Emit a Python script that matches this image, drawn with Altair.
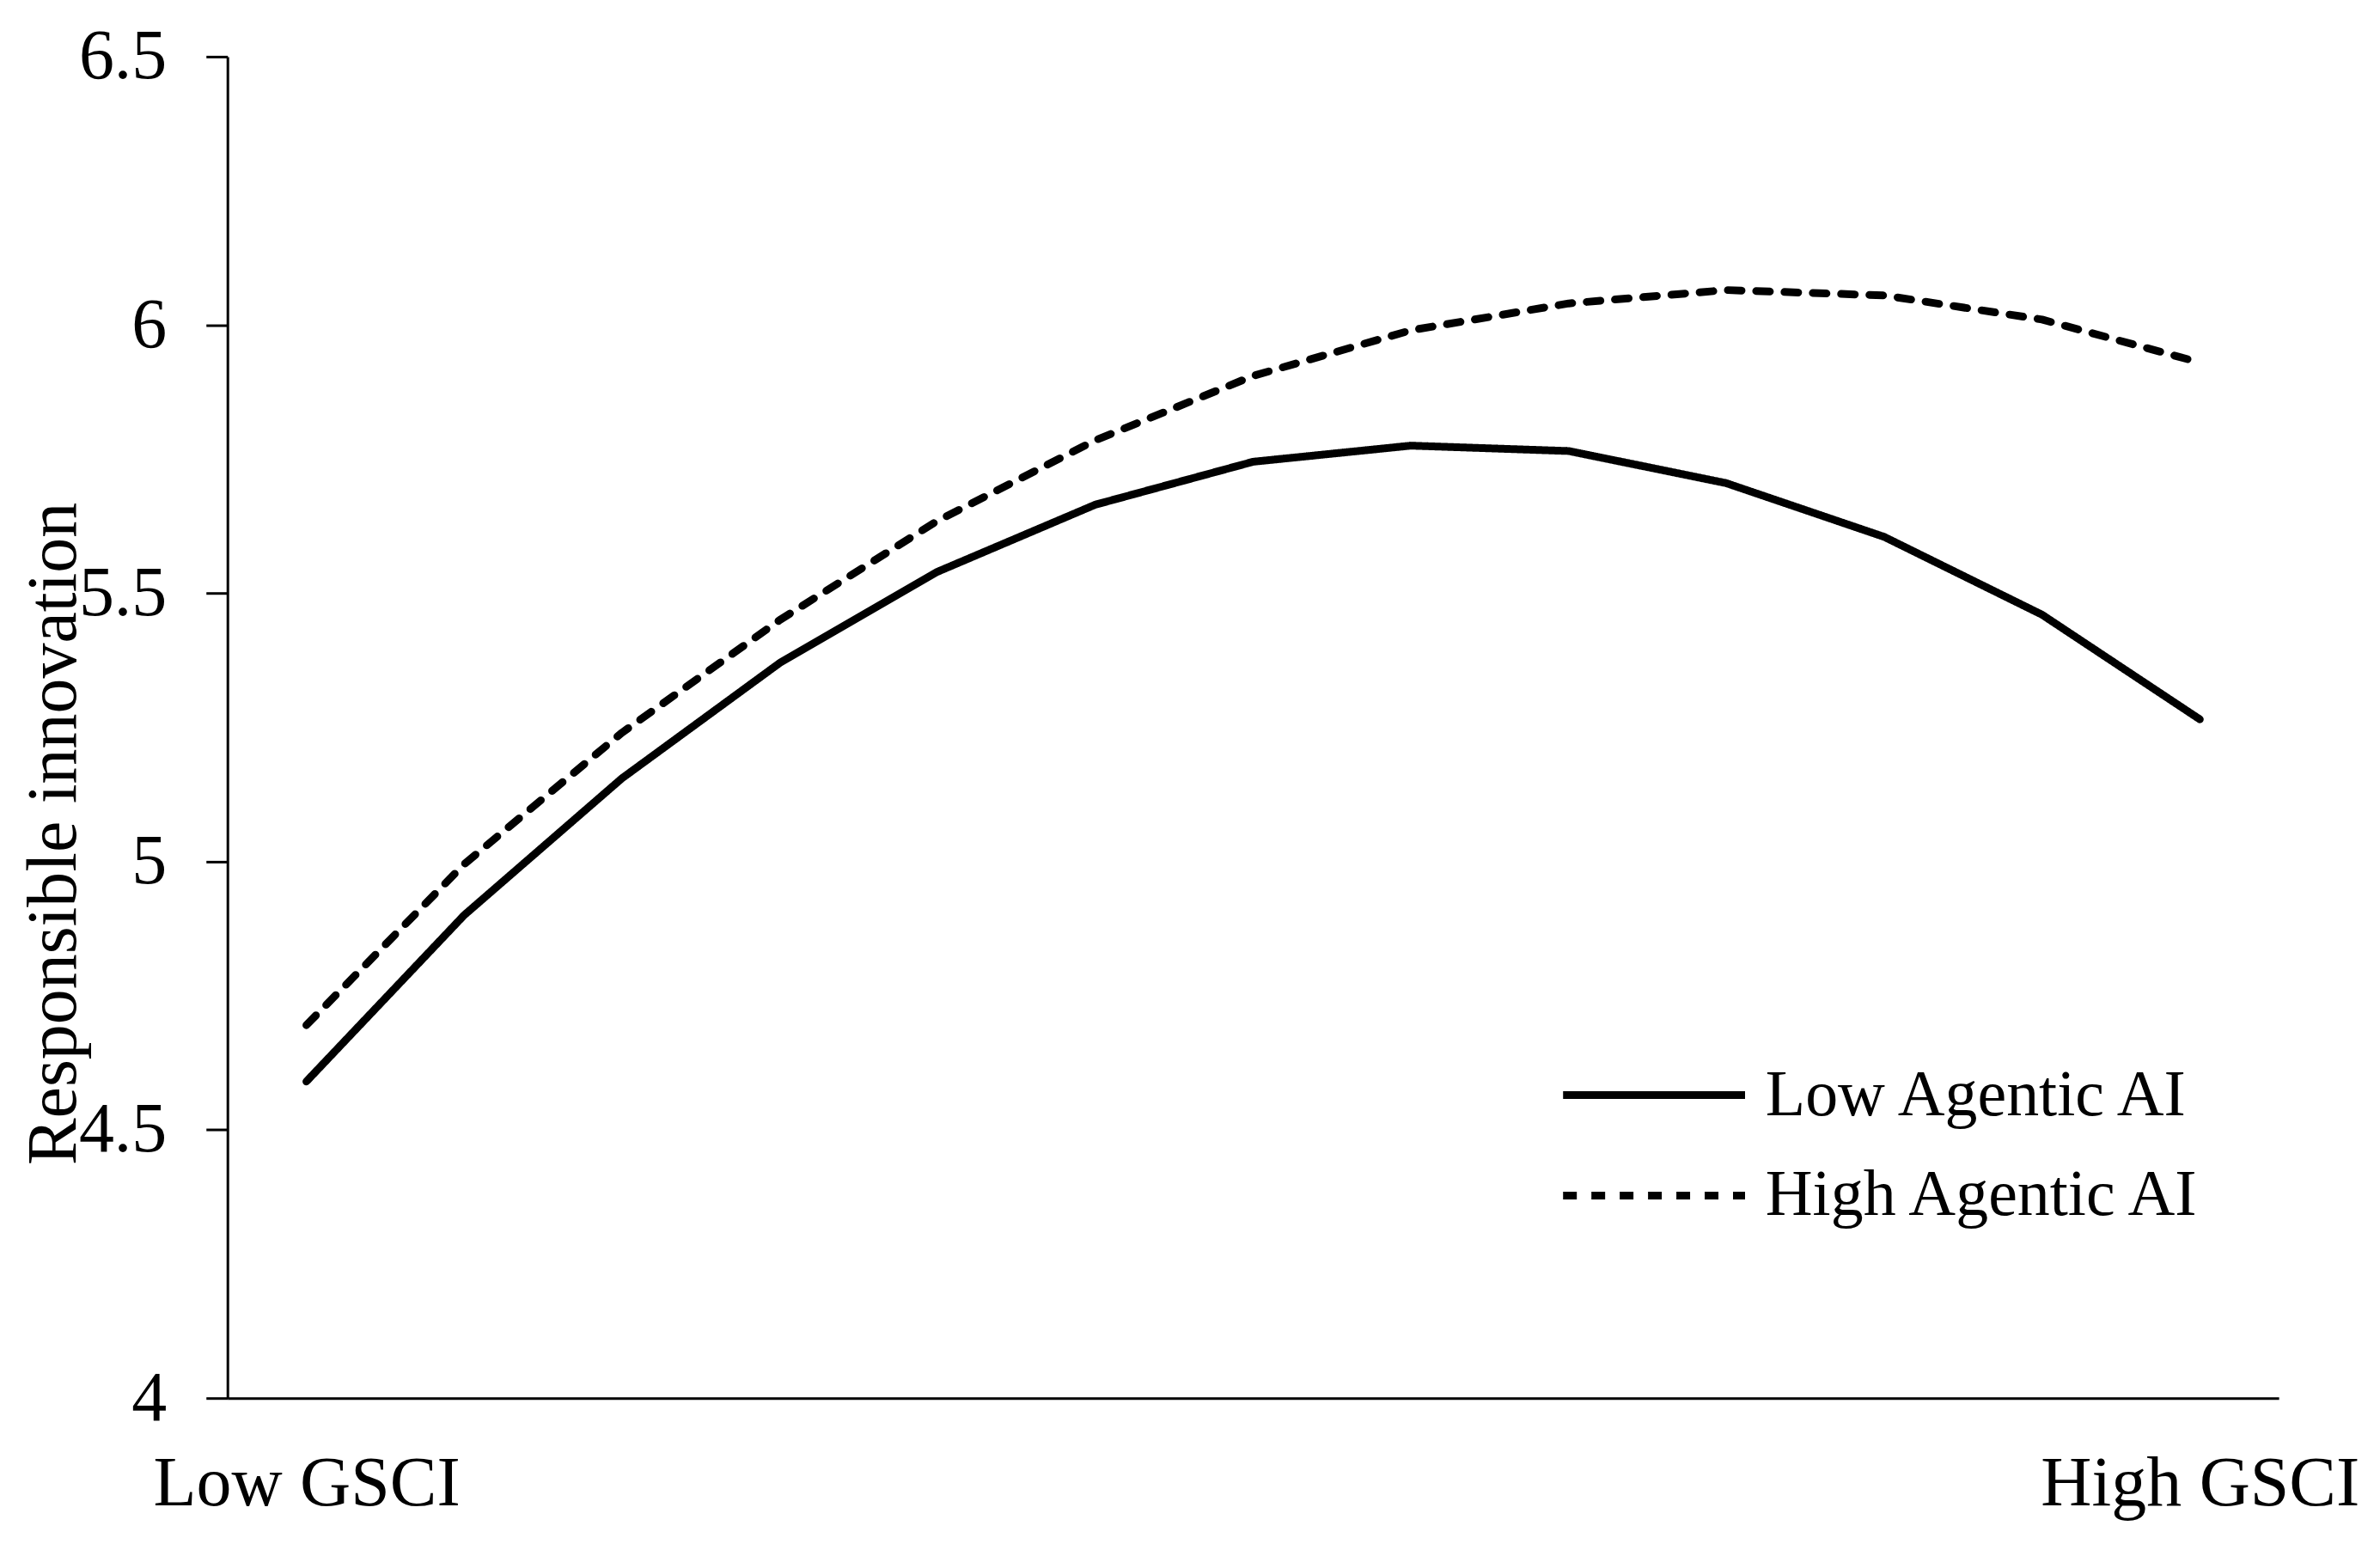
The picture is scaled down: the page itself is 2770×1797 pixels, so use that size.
import altair as alt
import pandas as pd

# ---- data ----
x_idx = list(range(13))
low_agentic = [4.59, 4.90, 5.155, 5.37, 5.54, 5.665, 5.745, 5.775, 5.765, 5.705, 5.605, 5.46, 5.265]
high_agentic = [4.695, 4.995, 5.24, 5.45, 5.635, 5.785, 5.905, 5.99, 6.04, 6.065, 6.055, 6.01, 5.93]
series_names = ["Low Agentic AI", "High Agentic AI"]
x_labels = ["Low GSCI", "High GSCI"]
y_ticks = [4, 4.5, 5, 5.5, 6, 6.5]

df = pd.DataFrame({
    "x": x_idx + x_idx,
    "y": low_agentic + high_agentic,
    "series": [series_names[0]] * len(x_idx) + [series_names[1]] * len(x_idx),
})

FONT = "Liberation Serif"
FS = 82

x_expr = f"datum.value == 0 ? '{x_labels[0]}' : '{x_labels[1]}'"

chart = alt.Chart(df).mark_line(
    color="black", strokeWidth=9, strokeCap="round", strokeJoin="round"
).encode(
    x=alt.X(
        "x:Q",
        scale=alt.Scale(domain=[-0.5, 12.5], nice=False, zero=False),
        axis=alt.Axis(
            values=[0, 12], labelExpr=x_expr, ticks=False, tickSize=0, grid=False,
            title=None, labelFontSize=FS, labelFont=FONT, labelColor="black",
            labelBaseline="alphabetic", labelPadding=124, labelFlush=False,
            labelOverlap=False, labelLimit=2000, domainColor="black", domainWidth=3,
        ),
    ),
    y=alt.Y(
        "y:Q",
        scale=alt.Scale(domain=[4, 6.5], nice=False, zero=False),
        axis=alt.Axis(
            values=y_ticks, labelExpr="datum.value", grid=False,
            title="Responsible innovation", titleAngle=270, titleX=-177, titleY=905,
            titleAlign="center", titleBaseline="alphabetic", titleFontSize=FS,
            titleFont=FONT, titleFontWeight="normal", titleColor="black",
            labelFontSize=FS, labelFont=FONT, labelColor="black", labelAlign="right",
            labelBaseline="middle", labelPadding=46, labelOverlap=False, labelLimit=2000,
            tickSize=25, tickWidth=3, tickColor="black",
            domainColor="black", domainWidth=3,
        ),
    ),
    strokeDash=alt.StrokeDash(
        "series:N",
        scale=alt.Scale(domain=series_names, range=[[1, 0], [16, 17]]),
        legend=alt.Legend(
            title=None, orient="none", legendX=1709, legendY=1172,
            symbolType="M-9,0H1", symbolSize=1798, symbolStrokeWidth=9,
            symbolStrokeColor="black", symbolFillColor="transparent",
            labelFontSize=76, labelFont=FONT, labelColor="black",
            labelOffset=7, rowPadding=41, padding=0, labelLimit=2000,
        ),
    ),
).properties(
    width=2390,
    height=1563,
    autosize=alt.AutoSizeParams(type="none"),
    padding={"left": 257, "top": 57, "right": 110, "bottom": 150},
    background="white",
).configure_view(stroke=None)

chart.save("out.html", embed_options={"renderer": "svg", "actions": False})
